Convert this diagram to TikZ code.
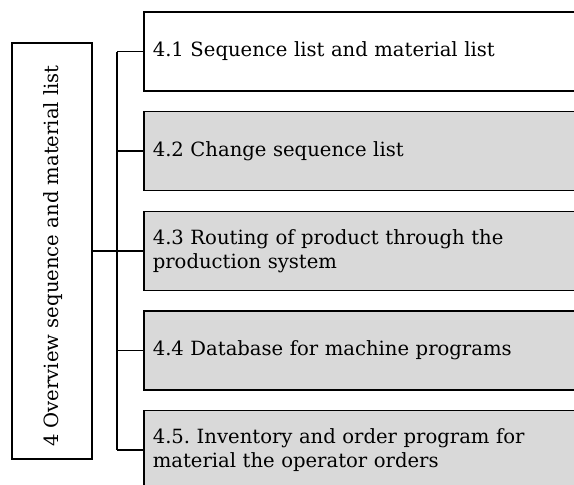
\documentclass[tikz,border=0pt]{standalone}
\usepackage{fontspec}
\setmainfont{DejaVu Serif}
\definecolor{boxgray}{HTML}{D9D9D9}
\frenchspacing
\begin{document}
\begin{tikzpicture}[x=1pt,y=-1pt,
  every node/.style={font=\fontsize{19.6}{24.5}\selectfont},
  wire/.style={line width=1.4pt},
  topicbox/.style={draw, line width=1.6pt, rectangle, anchor=west,
    minimum width=460pt, minimum height=79pt, text width=442pt,
    inner xsep=9pt, align=left},
  shaded/.style={topicbox, fill=boxgray}]
\useasboundingbox (0,0) rectangle (574,485);
\begin{scope}
\clip (0,0) rectangle (574,485);
% chapter box on the left, text running upwards
\node[draw, line width=1.6pt, rectangle, minimum width=80pt, minimum height=416pt] (main) at (52,251) {};
\node[rotate=90, inner sep=0pt] (maintext) at (53,256) {4 Overview sequence and material list};
% section boxes
\node[topicbox] (b1) at (143,51.5) {4.1 Sequence list and material list};
\node[shaded] (b2) at (143,151) {4.2 Change sequence list};
\node[shaded] (b3) at (143,251) {4.3 Routing of product through the\\production system};
\node[shaded] (b4) at (143,350.5) {4.4 Database for machine programs};
\node[shaded] (b5) at (143,450) {4.5. Inventory and order program for\\material the operator orders};
% tree connectors
\coordinate (spine) at (117,0);
\draw[wire] (main.east |- b3.west) -- (b3.west);
\draw[wire] (spine |- b1.west) -- (spine |- b5.west);
\foreach \b in {b1,b2,b4,b5}
  \draw[wire] (spine |- \b.west) -- (\b.west);
\end{scope}
\end{tikzpicture}
\end{document}
